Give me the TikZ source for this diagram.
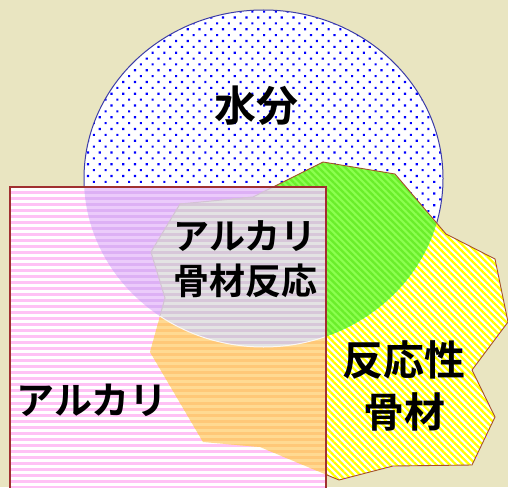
\documentclass[tikz,border=0pt]{standalone}
\usepackage{fontspec}
\newfontfamily\cjk{Noto Sans CJK JP}[BoldFont={Noto Sans CJK JP Bold}]
\usetikzlibrary{patterns.meta}
\definecolor{bgc}{HTML}{E9E5C1}
\definecolor{dotblue}{HTML}{0000FF}
\definecolor{rimblue}{HTML}{3C3CA8}
\definecolor{polyrim}{HTML}{A5502A}
\definecolor{hatchyellow}{HTML}{FFFF00}
\definecolor{greenbase}{HTML}{8CFF50}
\definecolor{greenline}{HTML}{6AEE2A}
\definecolor{pinkline}{HTML}{FFC2F5}
\definecolor{purplebase}{HTML}{EBCBFB}
\definecolor{purpleline}{HTML}{DDB0F5}
\definecolor{orangebase}{HTML}{FFDA92}
\definecolor{orangeline}{HTML}{FFC878}
\definecolor{graybase}{HTML}{E3E3E3}
\definecolor{grayline}{HTML}{D7C7D9}
\definecolor{rectrim}{HTML}{A03030}
\tikzset{
  ellp/.style={insert path={(263.5,178.5) ellipse [x radius=179.5, y radius=168.5]}},
  polyp/.style={insert path={(323,162) -- (395,174) -- (446,234) -- (495,259) -- (508,322) -- (472,370) -- (495,417) -- (472,465) -- (393,466) -- (339,480) -- (260,447) -- (203,442) -- (150,352) -- (165,298) -- (151,252) -- (180,204) -- (253,197) -- cycle}},
  rectp/.style={insert path={(10,187) rectangle (326,500)}},
  stripes/.style={pattern={Lines[angle=0,distance=6pt,line width=3pt]}, pattern color=#1},
  hatch/.style={pattern={Lines[angle=-45,distance=4.7pt,line width=2.3pt]}, pattern color=#1},
  label/.style={font=\cjk\bfseries, text=black, align=center, inner sep=0pt}
}
\begin{document}
\begin{tikzpicture}[x=1pt,y=-1pt]
\useasboundingbox (0,0) rectangle (508,487);
\fill[bgc] (0,0) rectangle (508,487);
% water ellipse
\fill[white, ellp];
\fill[pattern={Dots[angle=45,distance=8.3pt,radius=1.5pt]}, pattern color=dotblue, ellp];
\draw[rimblue, line width=1pt, ellp];
% reactive aggregate polygon
\fill[white, polyp];
\fill[hatch=hatchyellow, polyp];
% green overlap
\begin{scope}
  \path[clip, ellp];
  \fill[greenbase, polyp];
  \fill[hatch=greenline, polyp];
\end{scope}
\draw[polyrim, line width=0.9pt, line join=round, polyp];
% alkali rectangle
\fill[white, rectp];
\fill[stripes=pinkline, rectp];
\begin{scope}
  \path[clip, rectp];
  \fill[purplebase, ellp];
  \fill[stripes=purpleline, ellp];
  \fill[orangebase, polyp];
  \fill[stripes=orangeline, polyp];
  \begin{scope}
    \path[clip, ellp];
    \fill[graybase, polyp];
    \fill[stripes=grayline, polyp];
    \draw[grayline!90!black!20!grayline, line width=1pt, polyp];
  \end{scope}
  \begin{scope}
    \path[clip, polyp];
    \draw[white, opacity=0.8, line width=1pt, ellp];
  \end{scope}
\end{scope}
\draw[rectrim, line width=1.2pt, rectp];
% labels
\node[label, font=\cjk\bfseries\fontsize{42}{50}\selectfont] (water) at (256,106) {水分};
\node[label, font=\cjk\bfseries\fontsize{36}{45}\selectfont] (aar) at (245,259) {アルカリ\\骨材反応};
\node[label, font=\cjk\bfseries\fontsize{41}{52}\selectfont] (reactive) at (404,386) {反応性\\骨材};
\node[label, font=\cjk\bfseries\fontsize{38}{46}\selectfont] (alkali) at (92,400) {アルカリ};
\end{tikzpicture}
\end{document}
